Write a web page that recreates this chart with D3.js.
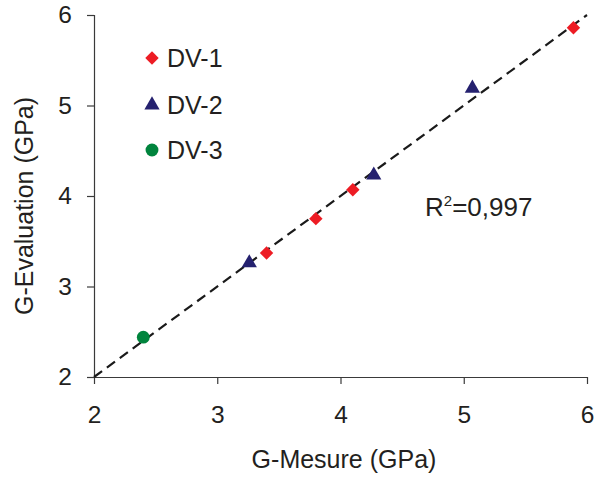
<!DOCTYPE html>
<html>
<head>
<meta charset="utf-8">
<script src="https://cdn.jsdelivr.net/npm/d3@7"></script>
<style>
  html, body { margin: 0; padding: 0; background: #fff; }
  svg { display: block; font-family: "Liberation Sans", Arial, sans-serif; }
</style>
</head>
<body>
<svg id="chart" width="595" height="477"></svg>
<script>
// ---- data ----
const seriesNames = ["DV-1", "DV-2", "DV-3"];
const dv1Measured = [3.40, 3.80, 4.10, 5.89];
const dv1Evaluated = [3.37, 3.75, 4.07, 5.86];
const dv2Measured = [3.26, 4.27, 5.07];
const dv2Evaluated = [3.26, 4.23, 5.19];
const dv3Measured = [2.40];
const dv3Evaluated = [2.44];
const xTicks = [2, 3, 4, 5, 6];
const yTicks = [2, 3, 4, 5, 6];
const fitLine = [2, 6];
const r2Label = "0,997";

// ---- layout ----
const svg = d3.select("#chart");
const x = d3.scaleLinear().domain([2, 6]).range([94, 587]);
const y = d3.scaleLinear().domain([2, 6]).range([377, 15]);
const textColor = "#231f20";
const axisColor = "#3a3a3a";

const colors = { "DV-1": "#ed1c24", "DV-2": "#25216f", "DV-3": "#00843d" };
const symbols = { "DV-1": d3.symbolDiamond2, "DV-2": d3.symbolTriangle, "DV-3": d3.symbolCircle };
const symSize = { "DV-1": 115, "DV-2": 100, "DV-3": 130 };

const series = [
  { name: "DV-1", xs: dv1Measured, ys: dv1Evaluated },
  { name: "DV-2", xs: dv2Measured, ys: dv2Evaluated },
  { name: "DV-3", xs: dv3Measured, ys: dv3Evaluated }
];

// axes
const xAxis = d3.axisBottom(x).tickValues(xTicks).tickSize(7).tickPadding(22).tickSizeOuter(0).tickFormat(d3.format("d"));
const yAxis = d3.axisLeft(y).tickValues(yTicks).tickSize(7).tickPadding(15).tickSizeOuter(0).tickFormat(d3.format("d"));

const gx = svg.append("g").attr("transform", `translate(0,${y(2)})`).call(xAxis);
const gy = svg.append("g").attr("transform", `translate(${x(2)},0)`).call(yAxis);
[gx, gy].forEach(g => {
  g.selectAll("path, line").attr("stroke", axisColor).attr("stroke-width", 1.2);
  g.selectAll("text").attr("fill", textColor).style("font-size", "24.5px");
});
gx.select(".domain").attr("d", `M${x(2)},0.5H${x(6)}`);
gy.select(".domain").attr("d", `M0.5,${y(2)}V${y(6)}`);

// fit line
svg.append("line")
  .attr("x1", x(fitLine[0])).attr("y1", y(fitLine[0]))
  .attr("x2", x(fitLine[1])).attr("y2", y(fitLine[1]))
  .attr("stroke", "#1a1a1a").attr("stroke-width", 2.2)
  .attr("stroke-dasharray", "10,6");

// points
series.forEach(s => {
  svg.append("g").selectAll("path")
    .data(s.xs.map((v, i) => [v, s.ys[i]]))
    .join("path")
    .attr("transform", d => `translate(${x(d[0])},${y(d[1])})`)
    .attr("d", d3.symbol().type(symbols[s.name]).size(symSize[s.name]))
    .attr("fill", colors[s.name]);
});

// legend
const legendY = [58, 105, 150];
series.forEach((s, i) => {
  const g = svg.append("g").attr("transform", `translate(152,${legendY[i]})`);
  g.append("path")
    .attr("d", d3.symbol().type(symbols[s.name]).size(symSize[s.name]))
    .attr("fill", colors[s.name]);
  g.append("text").attr("x", 15).attr("y", 8.5)
    .attr("fill", textColor).style("font-size", "25px").text(s.name);
});

// R² label
const r2 = svg.append("text").attr("x", 425).attr("y", 216)
  .attr("fill", textColor).style("font-size", "26px");
r2.append("tspan").text("R");
r2.append("tspan").attr("dy", -10).style("font-size", "15px").text("2");
r2.append("tspan").attr("dy", 10).text("=" + r2Label);

// axis titles
svg.append("text").attr("x", 344).attr("y", 468).attr("text-anchor", "middle")
  .attr("fill", textColor).style("font-size", "25px").text("G-Mesure (GPa)");
svg.append("text").attr("transform", "translate(33,206) rotate(-90)")
  .attr("text-anchor", "middle").attr("fill", textColor).style("font-size", "25px")
  .text("G-Evaluation (GPa)");
</script>
</body>
</html>
